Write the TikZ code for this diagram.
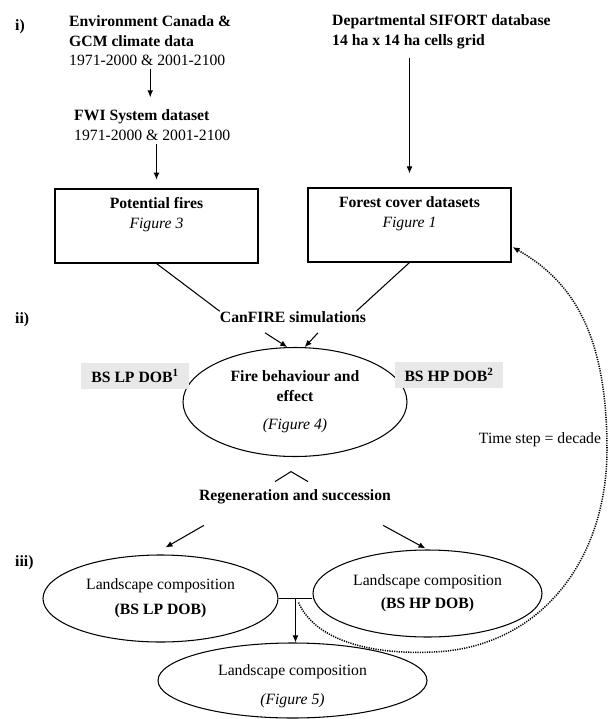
\documentclass[tikz,border=0pt]{standalone}
\usepackage{fontspec}
\setmainfont{Liberation Serif}
\usetikzlibrary{shapes.geometric,calc,arrows.meta}

\begin{document}
\begin{tikzpicture}[x=0.03cm, y=-0.03cm,
    every node/.style={font=\fontsize{13.4}{17}\selectfont, inner sep=0pt},
    heading/.style={font=\fontsize{13.4}{17}\selectfont\bfseries},
    arr/.style={-{Latex[length=6pt,width=5pt]}, line width=0.9pt},
    link/.style={line width=0.9pt},
    databox/.style={draw, line width=0.9pt, minimum width=6.09cm, minimum height=2.22cm, align=center},
    bubble/.style={draw, ellipse, line width=0.9pt, align=center},
    tag/.style={fill=black!9, inner xsep=0.3cm, minimum height=0.78cm, font=\fontsize{13.4}{17}\selectfont\bfseries},
    feedback/.style={line width=1.3pt, dash pattern=on 1pt off 1pt, -{Latex[length=6pt,width=5pt]}}]

    \useasboundingbox (0,0) rectangle (608,719);

    % step labels
    \node[heading, anchor=west] (lbli) at (15,27) {i)};
    \node[heading, anchor=west] (lblii) at (15,320) {ii)};
    \node[heading, anchor=west] (lbliii) at (15,563) {iii)};

    % inputs
    \node[anchor=north west, align=left] (climate) at (69,15) {\textbf{Environment Canada \&}\\\textbf{GCM climate data}\\1971-2000 \& 2001-2100};
    \node[anchor=north west, align=left] (fwi) at (74,109) {\textbf{FWI System dataset}\\1971-2000 \& 2001-2100};
    \node[anchor=north west, align=left] (sifort) at (332,14) {\textbf{Departmental SIFORT database}\\\textbf{14 ha x 14 ha cells grid}};

    \node[databox] (potential) at (156.5,226) {\textbf{Potential fires}\\\textit{Figure 3}\\\strut};
    \node[databox] (forest) at (409.5,225) {\textbf{Forest cover datasets}\\\textit{Figure 1}\\\strut};

    % simulation
    \node[heading] (canfire) at (293,317) {CanFIRE simulations};
    \node[bubble, minimum width=6.72cm, minimum height=3.27cm] (fire) at (295,402) {\textbf{Fire behaviour and}\\\textbf{effect}\\[7pt]\textit{(Figure 4)}};
    \node[tag] (lpdob) at (135,376) {BS LP DOB\textsuperscript{1}};
    \node[tag] (hpdob) at (449,375) {BS HP DOB\textsuperscript{2}};
    \node (timestep) at (540,440) {Time step = decade};

    % landscape
    \node[heading] (regen) at (295,497) {Regeneration and succession};
    \node[bubble, minimum width=7.05cm, minimum height=2.61cm] (lp) at (160.5,598.5) {Landscape composition\\[4pt]\textbf{(BS LP DOB)}};
    \node[bubble, minimum width=6.87cm, minimum height=2.61cm] (hp) at (427.5,593.5) {Landscape composition\\[3pt]\textbf{(BS HP DOB)}};
    \node[bubble, minimum width=8.07cm, minimum height=2.25cm, inner sep=-12pt] (comp) at (292.5,680.5) {\rule{0pt}{19pt}Landscape composition\\[7pt]\textit{(Figure 5)}};

    \draw[arr, shorten <=2pt, shorten >=10pt] (climate.south) -- (climate.south |- fwi.north);
    \draw[arr, shorten <=3pt, shorten >=7.5pt] (potential.north |- fwi.south) -- (potential.north);
    \draw[arr, shorten <=7.5pt, shorten >=12pt] (forest.north |- sifort.south) -- (forest.north);

    \draw[link] (potential.south) -- (canfire.north west);
    \draw[link] (forest.south) -- ($(canfire.north east)+(-10,0)$);
    \draw[arr] ($(canfire.south)+(-28,10)$) -- (fire.98);
    \draw[arr] ($(canfire.south)+(25,10)$) -- (fire.80);

    \draw[link] ($(regen.north)+(-20,-8)$) -- ($(regen.north)+(-4,-18)$) -- ($(regen.north)+(13,-8)$);
    \draw[arr] ($(regen.south west)+(5,21)$) -- ($(lp.north)+(5,-7)$);
    \draw[arr] ($(regen.south east)+(-8,21)$) -- ($(hp.north)+(-2,-1)$);

    \draw[link] (lp.east) -- coordinate[midway] (split) (lp.east -| hp.west);
    \draw[arr] (split) -- (split |- comp.north);
    \draw[feedback] ($(split)+(3,4)$) .. controls (315,640) and (370,655) .. (433,652)
        .. controls (540,648) and (607,560) .. (607,450)
        .. controls (607,330) and (570,280) .. ($(forest.east)+(1,22)$);
\end{tikzpicture}
\end{document}
